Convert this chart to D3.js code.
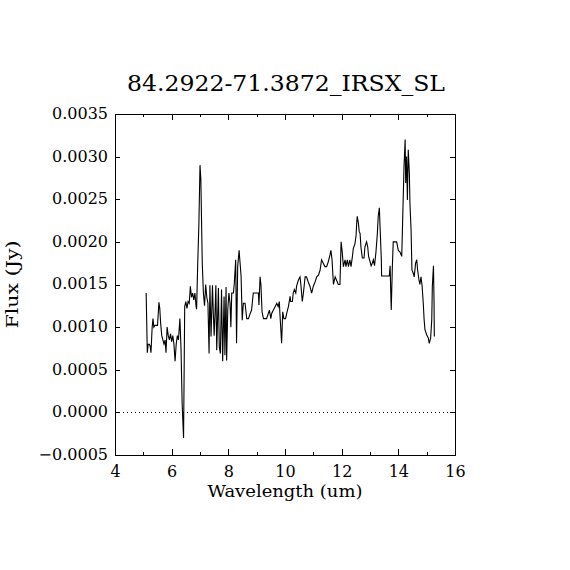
<!DOCTYPE html>
<html>
<head>
<meta charset="utf-8">
<script src="https://cdn.jsdelivr.net/npm/d3@7"></script>
<style>
  html, body { margin: 0; padding: 0; background: #ffffff; }
  #chart { width: 570px; height: 570px; }
  text { font-family: "DejaVu Serif", serif; fill: #000000; }
</style>
</head>
<body>
<div id="chart"></div>
<script>
const titleText = "84.2922-71.3872_IRSX_SL";
const xLabel = "Wavelength (um)";
const yLabel = "Flux (Jy)";

const xMajorTicks = [4, 6, 8, 10, 12, 14, 16];
const xMinorTicks = [5, 7, 9, 11, 13, 15];
const yTicks = [-0.0005, 0, 0.0005, 0.001, 0.0015, 0.002, 0.0025, 0.003, 0.0035];

const wavelength = [
  5.10, 5.14, 5.17, 5.21, 5.24, 5.27, 5.31, 5.34, 5.37, 5.41,
  5.46, 5.50, 5.53, 5.55, 5.58, 5.61, 5.65, 5.69, 5.73, 5.77,
  5.80, 5.84, 5.88, 5.92, 5.96, 6.00, 6.04, 6.08, 6.12, 6.16,
  6.20, 6.24, 6.29, 6.33, 6.37, 6.42, 6.46, 6.50, 6.54, 6.58,
  6.62, 6.66, 6.70, 6.74, 6.78, 6.82, 6.86, 6.88, 6.92, 6.96,
  7.00, 7.03, 7.08, 7.12, 7.16, 7.20, 7.24, 7.28, 7.32, 7.35,
  7.39, 7.44, 7.47, 7.50, 7.53, 7.56, 7.59, 7.65, 7.68, 7.72,
  7.76, 7.80, 7.85, 7.88, 7.92, 7.94, 7.98, 8.02, 8.06, 8.09,
  8.12, 8.18, 8.21, 8.26, 8.29, 8.33, 8.38, 8.41, 8.45, 8.49,
  8.53, 8.59, 8.65, 8.71, 8.76, 8.82, 8.88, 8.94, 9.00, 9.06,
  9.08, 9.12, 9.15, 9.19, 9.24, 9.29, 9.35, 9.41, 9.45, 9.50,
  9.53, 9.59, 9.65, 9.71, 9.76, 9.80, 9.82, 9.86, 9.88, 9.92,
  9.96, 10.02, 10.06, 10.12, 10.18, 10.20, 10.26, 10.29, 10.33, 10.38,
  10.41, 10.47, 10.53, 10.56, 10.61, 10.65, 10.71, 10.76, 10.82, 10.88,
  10.94, 11.00, 11.06, 11.12, 11.18, 11.24, 11.29, 11.35, 11.41, 11.47,
  11.53, 11.59, 11.62, 11.66, 11.71, 11.77, 11.82, 11.88, 11.94, 11.98,
  12.02, 12.06, 12.12, 12.15, 12.20, 12.24, 12.29, 12.33, 12.38, 12.41,
  12.47, 12.51, 12.53, 12.55, 12.59, 12.62, 12.65, 12.68, 12.73, 12.79,
  12.82, 12.88, 12.92, 12.95, 13.00, 13.04, 13.08, 13.12, 13.16, 13.21,
  13.26, 13.29, 13.33, 13.35, 13.40, 13.41, 13.55, 13.68, 13.71, 13.73,
  13.75, 13.79, 13.82, 13.88, 13.94, 14.00, 14.06, 14.12, 14.15, 14.20,
  14.24, 14.26, 14.29, 14.32, 14.35, 14.39, 14.41, 14.45, 14.48, 14.53,
  14.56, 14.61, 14.65, 14.68, 14.73, 14.76, 14.80, 14.84, 14.88, 14.91,
  14.94, 15.00, 15.06, 15.09, 15.14, 15.18, 15.20, 15.24, 15.26, 15.27
];

const flux = [
  0.00140, 0.00070, 0.00080, 0.00080, 0.00078, 0.00070, 0.00099, 0.00110, 0.00100, 0.00102,
  0.00102, 0.00102, 0.00118, 0.00129, 0.00122, 0.00105, 0.00090, 0.00085, 0.00080, 0.00085,
  0.00070, 0.00100, 0.00090, 0.00085, 0.00092, 0.00083, 0.00090, 0.00080, 0.00060, 0.00080,
  0.00090, 0.00085, 0.00110, 0.00075, 0.00010, -0.00030, 0.00124, 0.00130, 0.00122, 0.00130,
  0.00128, 0.00148, 0.00135, 0.00140, 0.00132, 0.00140, 0.00125, 0.00121, 0.00175, 0.00220,
  0.00290, 0.00273, 0.00175, 0.00140, 0.00125, 0.00150, 0.00135, 0.00128, 0.00069, 0.00149,
  0.00089, 0.00149, 0.00116, 0.00090, 0.00116, 0.00149, 0.00073, 0.00146, 0.00077, 0.00069,
  0.00144, 0.00060, 0.00136, 0.00067, 0.00147, 0.00061, 0.00120, 0.00140, 0.00128, 0.00100,
  0.00140, 0.00140, 0.00151, 0.00179, 0.00081, 0.00171, 0.00190, 0.00177, 0.00160, 0.00108,
  0.00128, 0.00128, 0.00110, 0.00110, 0.00115, 0.00120, 0.00140, 0.00140, 0.00140, 0.00140,
  0.00126, 0.00159, 0.00150, 0.00118, 0.00110, 0.00110, 0.00110, 0.00116, 0.00120, 0.00110,
  0.00116, 0.00120, 0.00124, 0.00128, 0.00124, 0.00130, 0.00116, 0.00093, 0.00081, 0.00118,
  0.00110, 0.00110, 0.00116, 0.00124, 0.00136, 0.00130, 0.00130, 0.00140, 0.00144, 0.00140,
  0.00148, 0.00155, 0.00159, 0.00150, 0.00130, 0.00140, 0.00159, 0.00159, 0.00153, 0.00148,
  0.00140, 0.00148, 0.00153, 0.00159, 0.00161, 0.00167, 0.00179, 0.00175, 0.00171, 0.00171,
  0.00177, 0.00185, 0.00190, 0.00179, 0.00150, 0.00159, 0.00155, 0.00150, 0.00150, 0.00200,
  0.00188, 0.00171, 0.00179, 0.00171, 0.00179, 0.00171, 0.00179, 0.00171, 0.00183, 0.00192,
  0.00198, 0.00208, 0.00222, 0.00230, 0.00222, 0.00212, 0.00210, 0.00194, 0.00181, 0.00181,
  0.00194, 0.00200, 0.00194, 0.00183, 0.00177, 0.00172, 0.00175, 0.00179, 0.00172, 0.00188,
  0.00210, 0.00230, 0.00240, 0.00222, 0.00179, 0.00160, 0.00160, 0.00160, 0.00172, 0.00144,
  0.00120, 0.00172, 0.00200, 0.00200, 0.00200, 0.00190, 0.00188, 0.00183, 0.00222, 0.00288,
  0.00320, 0.00269, 0.00300, 0.00249, 0.00308, 0.00280, 0.00245, 0.00214, 0.00167, 0.00163,
  0.00159, 0.00175, 0.00179, 0.00167, 0.00155, 0.00150, 0.00159, 0.00148, 0.00128, 0.00109,
  0.00097, 0.00091, 0.00087, 0.00081, 0.00087, 0.00109, 0.00148, 0.00172, 0.00130, 0.00089
];

const width = 570;
const height = 570;
const margin = { top: 114, right: 115, bottom: 115, left: 115 };
const innerWidth = width - margin.left - margin.right;
const innerHeight = height - margin.top - margin.bottom;

const spectrum = wavelength.map((w, i) => ({ w, f: flux[i] }));

const svg = d3.select("#chart")
  .append("svg")
  .attr("width", width)
  .attr("height", height)
  .attr("viewBox", `0 0 ${width} ${height}`);

svg.append("rect")
  .attr("width", width)
  .attr("height", height)
  .attr("fill", "#ffffff");

const xScale = d3.scaleLinear().domain([4, 16]).range([0, innerWidth]);
const yScale = d3.scaleLinear().domain([-0.0005, 0.0035]).range([innerHeight, 0]);

const chart = svg.append("g")
  .attr("transform", `translate(${margin.left}, ${margin.top})`);

// zero reference line
chart.append("line")
  .attr("x1", 0)
  .attr("x2", innerWidth)
  .attr("y1", Math.round(yScale(0)) + 0.5)
  .attr("y2", Math.round(yScale(0)) + 0.5)
  .attr("stroke", "#000000")
  .attr("stroke-width", 1)
  .attr("stroke-dasharray", "1,3");

const line = d3.line()
  .x(d => xScale(d.w))
  .y(d => yScale(d.f));

chart.append("path")
  .datum(spectrum)
  .attr("fill", "none")
  .attr("stroke", "#000000")
  .attr("stroke-width", 1.1)
  .attr("d", line);

// axes: labelled bottom/left, bare ticks on top/right
const fmt = d3.format(".4f");

const styleAxis = g => {
  g.select(".domain").attr("stroke", "#000000").attr("stroke-width", 1);
  g.selectAll(".tick line").attr("stroke", "#000000").attr("stroke-width", 1);
  g.attr("shape-rendering", "crispEdges");
};
const bare = g => g.selectAll(".tick text").remove();

chart.append("g")
  .attr("transform", `translate(0, ${innerHeight})`)
  .call(d3.axisBottom(xScale).tickValues(xMajorTicks).tickSize(-6).tickSizeOuter(0).tickPadding(11).tickFormat(d3.format("d")))
  .call(styleAxis)
  .call(g => g.selectAll("text").attr("font-size", 16).attr("font-family", "DejaVu Serif"));

chart.append("g")
  .attr("transform", `translate(0, ${innerHeight})`)
  .call(d3.axisBottom(xScale).tickValues(xMinorTicks).tickSize(-3).tickSizeOuter(0))
  .call(styleAxis)
  .call(bare)
  .call(g => g.select(".domain").remove());

chart.append("g")
  .call(d3.axisTop(xScale).tickValues(xMajorTicks).tickSize(-6).tickSizeOuter(0))
  .call(styleAxis)
  .call(bare);

chart.append("g")
  .call(d3.axisTop(xScale).tickValues(xMinorTicks).tickSize(-3).tickSizeOuter(0))
  .call(styleAxis)
  .call(bare)
  .call(g => g.select(".domain").remove());

chart.append("g")
  .call(d3.axisLeft(yScale).tickValues(yTicks).tickSize(-5).tickSizeOuter(0).tickPadding(7).tickFormat(fmt))
  .call(styleAxis)
  .call(g => g.selectAll("text").attr("font-size", 16).attr("font-family", "DejaVu Serif").attr("dy", "0.28em"));

chart.append("g")
  .attr("transform", `translate(${innerWidth}, 0)`)
  .call(d3.axisRight(yScale).tickValues(yTicks).tickSize(-5).tickSizeOuter(0))
  .call(styleAxis)
  .call(bare);

// titles
svg.append("text")
  .attr("x", margin.left + innerWidth / 2 + 1)
  .attr("y", 91)
  .attr("text-anchor", "middle")
  .attr("font-size", 23)
  .attr("textLength", 318)
  .attr("lengthAdjust", "spacingAndGlyphs")
  .text(titleText);

svg.append("text")
  .attr("x", margin.left + innerWidth / 2)
  .attr("y", 497)
  .attr("text-anchor", "middle")
  .attr("font-size", 17)
  .attr("textLength", 155)
  .attr("lengthAdjust", "spacingAndGlyphs")
  .text(xLabel);

svg.append("text")
  .attr("transform", `translate(18, ${margin.top + innerHeight / 2}) rotate(-90)`)
  .attr("text-anchor", "middle")
  .attr("font-size", 17)
  .attr("textLength", 88)
  .attr("lengthAdjust", "spacingAndGlyphs")
  .text(yLabel);
</script>
</body>
</html>
